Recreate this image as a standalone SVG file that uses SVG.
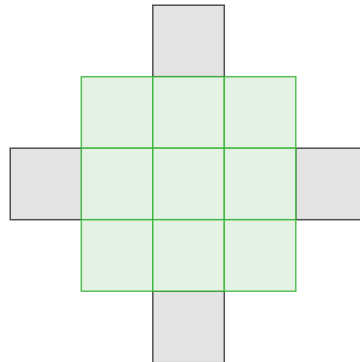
<svg xmlns="http://www.w3.org/2000/svg" width="360" height="362" viewBox="0 0 360 362">
<style>
.g{fill:#e3e3e3;stroke:#333;stroke-opacity:0.85;stroke-width:1.5}
.c{fill:#e4f2e4;stroke:#2fb02f;stroke-opacity:0.8;stroke-width:1.5}
</style>
<rect width="360" height="362" fill="#fff"/>
<g id="top"><rect class="g" x="152.8" y="5.2" width="71.5" height="71.5"/></g>
<g id="left"><rect class="g" x="10.2" y="148.2" width="71.5" height="71.5"/></g>
<g id="right"><rect class="g" x="295.7" y="148.2" width="71.5" height="71.5"/></g>
<g id="bottom"><rect class="g" x="152.8" y="291.2" width="71.5" height="71.5"/></g>
<g id="grid">
<rect class="c" x="81.3" y="76.7" width="71.5" height="71.5"/>
<rect class="c" x="152.8" y="76.7" width="71.5" height="71.5"/>
<rect class="c" x="224.3" y="76.7" width="71.5" height="71.5"/>
<rect class="c" x="81.3" y="148.2" width="71.5" height="71.5"/>
<rect class="c" x="152.8" y="148.2" width="71.5" height="71.5"/>
<rect class="c" x="224.3" y="148.2" width="71.5" height="71.5"/>
<rect class="c" x="81.3" y="219.7" width="71.5" height="71.5"/>
<rect class="c" x="152.8" y="219.7" width="71.5" height="71.5"/>
<rect class="c" x="224.3" y="219.7" width="71.5" height="71.5"/>
</g>
<g id="connectors"></g>
</svg>
